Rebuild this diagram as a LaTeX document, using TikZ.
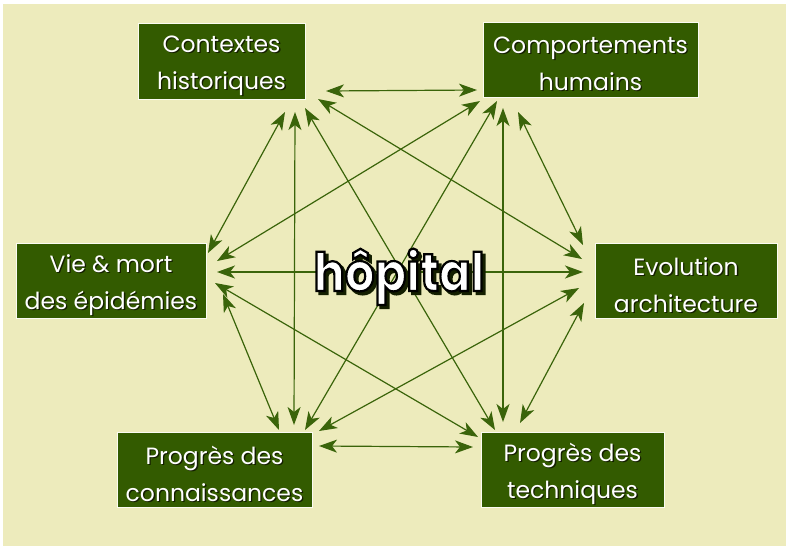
\documentclass[tikz,border=0pt]{standalone}
\usepackage{fontspec}
\setmainfont{Poppins}
\newfontfamily\hfont{Poppins}[FakeStretch=0.88]
\usetikzlibrary{arrows.meta,calc}
\definecolor{bg}{RGB}{237,235,188}
\definecolor{boxg}{RGB}{51,91,0}
\definecolor{arr}{RGB}{58,100,10}
\definecolor{shad}{RGB}{20,30,0}
\newcommand\sh[1]{\leavevmode\rlap{\kern1.3pt\raisebox{-1.3pt}{\textcolor{shad}{#1}}}#1}
\newcommand\outlined[2]{\special{pdf:literal direct #1 RG 2.2 w 2 Tr}#2\special{pdf:literal direct 0 Tr}}
\newcommand\bigword[1]{\leavevmode\rlap{\kern3pt\raisebox{-3pt}{\textcolor{shad}{\outlined{0.08 0.12 0}{#1}}}}\outlined{0 0 0}{#1}}
\tikzset{
  box/.style={draw=white!80!bg, line width=0.8pt, fill=boxg, inner sep=0pt},
  boxtext/.style={text=white, align=center, inner sep=0pt, font=\fontsize{23.5}{37}\selectfont},
  link/.style={arr, line width=1.2pt,
    {Stealth[length=18pt,width=13pt,inset=5pt]}-{Stealth[length=18pt,width=13pt,inset=5pt]}},
  hop/.style={font=\hfont\bfseries\fontsize{53}{53}\selectfont, anchor=base, inner sep=0pt},
}
\begin{document}
\begin{tikzpicture}[x=1pt,y=-1pt]
\useasboundingbox (0,0) rectangle (789,549);
\fill[white] (0,0) rectangle (789,549);
\fill[bg] (3,4) rectangle (786,546);

% boxes
\node[box, minimum width=167pt, minimum height=76pt] (C) at (221.5,61) {};
\node[box, minimum width=215pt, minimum height=75pt] (H) at (590.5,59.5) {};
\node[box, minimum width=190pt, minimum height=75pt] (V) at (111,280.5) {};
\node[box, minimum width=182pt, minimum height=75pt] (E) at (686,280.5) {};
\node[box, minimum width=195pt, minimum height=75pt] (K) at (214.5,469.5) {};
\node[box, minimum width=183pt, minimum height=75pt] (T) at (572.5,469.5) {};

\node[boxtext] (Ct) at ([yshift=-5pt]C.center) {\sh{Contextes}\\\sh{historiques}};
\node[boxtext] (Ht) at ([yshift=-5pt]H.center) {\sh{Comportements}\\\sh{humains}};
\node[boxtext] (Vt) at ([yshift=-5pt]V.center) {\sh{Vie \& mort}\\\sh{des épidémies}};
\node[boxtext] (Et) at ([yshift=-5pt]E.center) {\sh{Evolution}\\\sh{architecture}};
\node[boxtext] (Kt) at ([yshift=-5pt]K.center) {\sh{Progrès des}\\\sh{connaissances}};
\node[boxtext] (Tt) at ([yshift=-5pt]T.center) {\sh{Progrès des}\\\sh{techniques}};

% connector end points
\coordinate (ch) at (326,91);  \coordinate (hc) at (477,90);
\coordinate (cv) at (285,112); \coordinate (vc) at (208,253);
\coordinate (ck) at (295,112); \coordinate (kc) at (294,425);
\coordinate (ct) at (305,108); \coordinate (tc) at (495,430);
\coordinate (ce) at (318,99);  \coordinate (ec) at (582,259);
\coordinate (hv) at (480,101); \coordinate (vh) at (217,261);
\coordinate (hk) at (497,101); \coordinate (kh) at (305,430);
\coordinate (ht) at (503,108); \coordinate (th) at (503,422);
\coordinate (he) at (518,112); \coordinate (eh) at (583,245);
\coordinate (ve) at (217,272); \coordinate (ev) at (583,272);
\coordinate (vt) at (215,283); \coordinate (tv) at (478,437);
\coordinate (vk) at (223,294); \coordinate (kv) at (279,430);
\coordinate (ek) at (579,288); \coordinate (ke) at (319,431);
\coordinate (et) at (584,303); \coordinate (te) at (520,423);
\coordinate (kt) at (319,446); \coordinate (tk) at (473,447);

\foreach \a/\b in {ch/hc,cv/vc,ck/kc,ct/tc,ce/ec,hv/vh,hk/kh,ht/th,he/eh,ve/ev,vt/tv,vk/kv,ek/ke,et/te,kt/tk}
  \draw[link] (\a) -- (\b);

% central word
\node[hop, text=white] (hw) at (399,291) {\bigword{hôpital}};
\end{tikzpicture}
\end{document}
